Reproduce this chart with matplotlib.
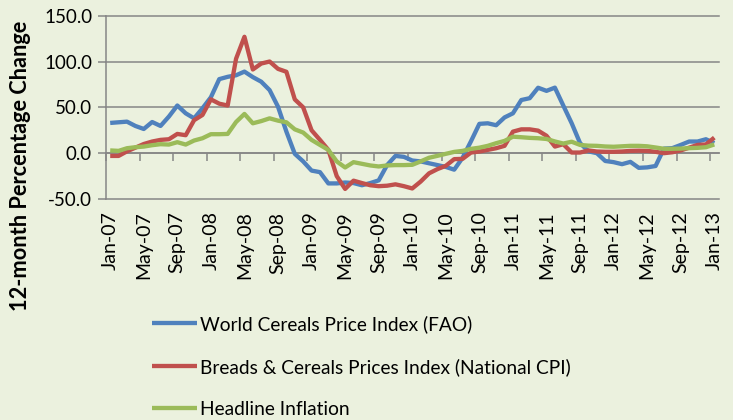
import matplotlib
matplotlib.use("Agg")
import matplotlib.pyplot as plt
import pandas as pd

months = list(pd.date_range("2007-01-01", periods=73, freq="MS").strftime("%b-%y"))

fao = [33, 33.7, 34.4, 29.7, 26.4, 34, 29.7, 40, 52, 43.5, 38, 49, 61, 80.8, 83.3,
       85, 89, 83, 78, 68.8, 50.7, 23.5, -0.7, -9, -19, -20.7, -33, -33, -32,
       -32.6, -35, -32.6, -29.7, -13, -3, -4, -8, -9, -11, -13, -15, -18, -5,
       13, 32, 32.6, 30.5, 39, 43.5, 58, 60, 71.4, 68, 71.5, 52, 32.7, 11, 2,
       0, -8.5, -9.8, -12, -9.5, -16, -15.5, -14, 5, 5.5, 9, 12.7, 12.7, 15.2, 11]

cpi = [-3, -3, 2, 6, 10, 12.7, 14.5, 15.2, 21, 19.6, 36, 41.7, 58.7, 54, 52,
       103, 127, 91.3, 97.8, 100, 92, 88.8, 58.7, 50, 25, 14.5, 3.6, -25, -39,
       -30, -32.6, -35, -36, -35.5, -34, -36, -38.5, -31, -22, -17.4, -13.8,
       -6.5, -6.2, 0.7, 1.8, 3.6, 5.4, 8, 23.5, 26, 26, 24.6, 19, 7.2, 9.8, 0.7,
       0.7, 3, 1.8, 1.5, 1.5, 1.8, 2.5, 2.7, 2.5, 1.5, 0, 1, 3, 6, 9, 9.5, 17]

headline = [3, 2.5, 5.4, 6.5, 7.2, 8.7, 9.8, 9.4, 12, 9.4, 13.8, 16.3, 20.7, 20.7,
            21, 34, 42.8, 32.6, 35, 38, 35.5, 33.7, 26, 22.5, 14.5, 9, 3.6, -9,
            -15.6, -9.8, -11.6, -13.4, -14.5, -13.4, -13, -13, -12.7, -9, -5,
            -2.9, -0.7, 1.4, 2.5, 4.7, 6, 8, 10.9, 13.4, 18, 17.4, 16.7, 16.3,
            15.5, 12.8, 10.5, 12.5, 9, 8.2, 8, 7.3, 7, 7.5, 8, 8, 7.5, 6.2, 4.8,
            4.8, 5, 5.5, 5.8, 6.5, 9.5]

series_names = ["World Cereals Price Index (FAO)",
                "Breads & Cereals Prices Index (National CPI)",
                "Headline Inflation"]
series_colors = ["#4F81BD", "#C0504D", "#9BBB59"]
y_ticks = [-50, 0, 50, 100, 150]

bg = "#EBF1DE"
grid_c = "#868686"
font = ["Lato", "DejaVu Sans"]
plt.rcParams["font.family"] = font

fig = plt.figure(figsize=(7.33, 4.20), dpi=100, facecolor=bg)
ax = fig.add_axes([106 / 733, 1 - 199 / 420, 612.5 / 733, 183.3 / 420])
ax.set_facecolor(bg)

x = list(range(len(months)))
for vals, name, col in zip([fao, cpi, headline], series_names, series_colors):
    ax.plot(x, vals, color=col, lw=3.1, label=name, solid_joinstyle="round",
            solid_capstyle="butt", zorder=3)

ax.set_xlim(-0.5, len(months) - 0.5)
ax.set_ylim(-50, 150)
ax.set_yticks(y_ticks)
ax.set_yticklabels([f"{v:.1f}" for v in y_ticks], fontsize=13.5)
ax.yaxis.grid(True, color=grid_c, lw=1.1, zorder=1)
ax.set_axisbelow(True)
for gl in ax.yaxis.get_gridlines():
    gl.set_clip_on(False)

for s in ["top", "right", "bottom"]:
    ax.spines[s].set_visible(False)
ax.spines["left"].set_color(grid_c)
ax.spines["left"].set_linewidth(1.1)
ax.tick_params(axis="y", direction="out", length=6, color=grid_c, width=1.1, pad=4)

lab_idx = list(range(0, len(months), 4))
ax.set_xticks(lab_idx)
ax.set_xticklabels([months[i] for i in lab_idx], rotation=90, fontsize=14)
ax.tick_params(axis="x", length=0, pad=9)

sec = ax.secondary_xaxis(0.25)
sec.set_xticks([i - 0.5 for i in lab_idx])
sec.set_xticklabels([])
sec.tick_params(axis="x", direction="out", length=6, color=grid_c, width=1.1)
sec.spines["bottom"].set_color(grid_c)
sec.spines["bottom"].set_linewidth(1.1)

fig.text(20.7 / 733, 1 - 166 / 420, "12-month Percentage Change", rotation=90,
         ha="center", va="center", fontsize=15.7, fontweight="bold")

ax.legend(loc="upper left", bbox_to_anchor=(152 / 733, 1 - 315 / 420),
          bbox_transform=fig.transFigure, frameon=False, fontsize=13.8,
          handlelength=2.35, handletextpad=0.15, labelspacing=1.3,
          borderpad=0, borderaxespad=0)

fig.savefig("out.png", dpi=100, facecolor=bg)
